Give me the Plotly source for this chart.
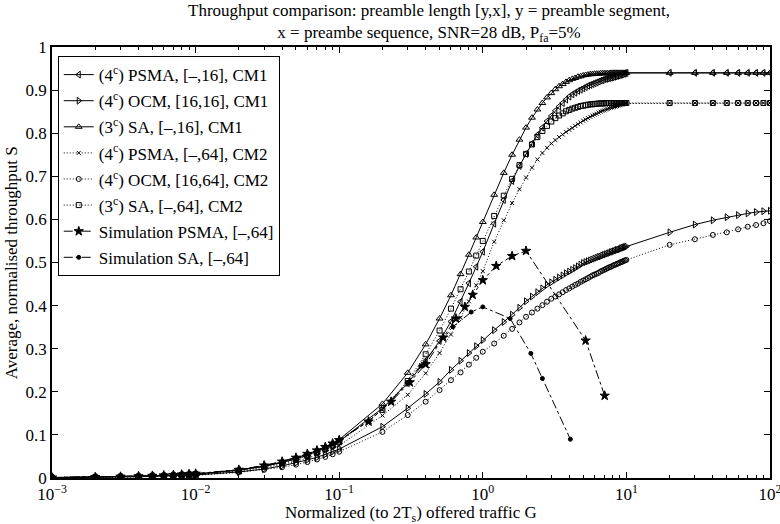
import plotly.graph_objects as go

# ---------------- data ----------------
G_theory = [0.001, 0.002, 0.003, 0.004, 0.005, 0.006, 0.007, 0.008, 0.009, 0.01,
            0.02, 0.03, 0.04, 0.05, 0.06, 0.07, 0.08, 0.09, 0.1,
            0.2, 0.3, 0.4, 0.5, 0.6, 0.7, 0.8, 0.9, 1.0,
            1.2, 1.4, 1.6, 1.8, 2.0, 2.2, 2.4, 2.6, 2.8, 3.0,
            3.2, 3.4, 3.6, 3.8, 4.0, 4.2, 4.4, 4.6, 4.8, 5.0,
            5.2, 5.4, 5.6, 5.8, 6.0, 6.2, 6.4, 6.6, 6.8, 7.0,
            7.2, 7.4, 7.6, 7.8, 8.0, 8.2, 8.4, 8.6, 8.8, 9.0,
            9.2, 9.4, 9.6, 9.8, 10.0,
            20, 30, 40, 50, 60, 70, 80, 90, 100]

psma_cm1 = [0.001, 0.002, 0.003, 0.004, 0.005, 0.005, 0.006, 0.007, 0.008, 0.009,
            0.018, 0.027, 0.036, 0.044, 0.053, 0.061, 0.069, 0.077, 0.085,
            0.162, 0.220, 0.272, 0.318, 0.363, 0.409, 0.452, 0.490, 0.525,
            0.590, 0.645, 0.689, 0.724, 0.752, 0.776, 0.796, 0.813, 0.828, 0.840,
            0.852, 0.862, 0.870, 0.878, 0.885, 0.890, 0.894, 0.898, 0.901, 0.904,
            0.907, 0.910, 0.912, 0.914, 0.916, 0.918, 0.920, 0.922, 0.923, 0.925,
            0.926, 0.927, 0.928, 0.929, 0.930, 0.931, 0.932, 0.933, 0.934, 0.935,
            0.936, 0.937, 0.938, 0.939, 0.940,
            0.940, 0.940, 0.940, 0.940, 0.940, 0.940, 0.940, 0.940, 0.940]

ocm_cm1 = [0.001, 0.001, 0.002, 0.003, 0.004, 0.004, 0.005, 0.006, 0.006, 0.007,
           0.014, 0.021, 0.028, 0.035, 0.042, 0.048, 0.055, 0.061, 0.067,
           0.119, 0.162, 0.195, 0.223, 0.251, 0.272, 0.290, 0.306, 0.320,
           0.343, 0.362, 0.379, 0.395, 0.410, 0.421, 0.431, 0.440, 0.448, 0.454,
           0.460, 0.465, 0.470, 0.475, 0.479, 0.483, 0.487, 0.491, 0.495, 0.499,
           0.501, 0.503, 0.505, 0.507, 0.509, 0.511, 0.513, 0.514, 0.516, 0.518,
           0.519, 0.521, 0.522, 0.524, 0.525, 0.526, 0.528, 0.529, 0.530, 0.531,
           0.533, 0.534, 0.535, 0.536, 0.537,
           0.570, 0.588, 0.598, 0.605, 0.610, 0.614, 0.617, 0.619, 0.620]

sa_cm1 = [0.001, 0.002, 0.003, 0.004, 0.005, 0.006, 0.007, 0.007, 0.008, 0.009,
          0.019, 0.028, 0.037, 0.046, 0.055, 0.064, 0.072, 0.081, 0.089,
          0.172, 0.244, 0.310, 0.370, 0.424, 0.473, 0.518, 0.558, 0.594,
          0.657, 0.708, 0.750, 0.785, 0.813, 0.836, 0.855, 0.870, 0.883, 0.893,
          0.902, 0.909, 0.914, 0.919, 0.923, 0.926, 0.928, 0.931, 0.932, 0.934,
          0.935, 0.936, 0.937, 0.937, 0.938, 0.938, 0.938, 0.939, 0.939, 0.939,
          0.939, 0.939, 0.939, 0.940, 0.940, 0.940, 0.940, 0.940, 0.940, 0.940,
          0.940, 0.940, 0.940, 0.940, 0.940,
          0.940, 0.940, 0.940, 0.940, 0.940, 0.940, 0.940, 0.940, 0.940]

psma_cm2 = [0.001, 0.002, 0.002, 0.003, 0.004, 0.005, 0.006, 0.006, 0.007, 0.008,
            0.016, 0.024, 0.031, 0.039, 0.046, 0.054, 0.061, 0.068, 0.075,
            0.145, 0.193, 0.243, 0.290, 0.333, 0.372, 0.410, 0.447, 0.480,
            0.548, 0.598, 0.638, 0.670, 0.697, 0.720, 0.739, 0.754, 0.766, 0.776,
            0.784, 0.791, 0.797, 0.803, 0.808, 0.812, 0.817, 0.821, 0.825, 0.829,
            0.832, 0.835, 0.838, 0.841, 0.843, 0.845, 0.848, 0.850, 0.852, 0.853,
            0.855, 0.856, 0.858, 0.859, 0.860, 0.861, 0.862, 0.863, 0.864, 0.865,
            0.866, 0.867, 0.868, 0.869, 0.870,
            0.870, 0.870, 0.870, 0.870, 0.870, 0.870, 0.870, 0.870, 0.870]

ocm_cm2 = [0.001, 0.001, 0.002, 0.003, 0.003, 0.004, 0.005, 0.005, 0.006, 0.006,
           0.013, 0.019, 0.025, 0.031, 0.037, 0.043, 0.049, 0.055, 0.061,
           0.107, 0.146, 0.177, 0.204, 0.227, 0.245, 0.263, 0.279, 0.293,
           0.312, 0.330, 0.346, 0.361, 0.374, 0.384, 0.393, 0.401, 0.409, 0.416,
           0.421, 0.426, 0.431, 0.436, 0.440, 0.444, 0.448, 0.451, 0.455, 0.458,
           0.461, 0.464, 0.467, 0.470, 0.472, 0.474, 0.476, 0.479, 0.481, 0.483,
           0.485, 0.487, 0.489, 0.490, 0.492, 0.494, 0.495, 0.497, 0.498, 0.500,
           0.501, 0.502, 0.504, 0.505, 0.506,
           0.541, 0.554, 0.564, 0.570, 0.577, 0.583, 0.587, 0.591, 0.596]

sa_cm2 = [0.001, 0.002, 0.003, 0.003, 0.004, 0.005, 0.006, 0.007, 0.008, 0.009,
          0.017, 0.026, 0.034, 0.042, 0.051, 0.059, 0.067, 0.075, 0.083,
          0.158, 0.225, 0.287, 0.342, 0.393, 0.438, 0.479, 0.516, 0.550,
          0.608, 0.655, 0.694, 0.726, 0.752, 0.774, 0.791, 0.805, 0.817, 0.827,
          0.835, 0.841, 0.846, 0.851, 0.854, 0.857, 0.859, 0.861, 0.863, 0.864,
          0.865, 0.866, 0.867, 0.867, 0.868, 0.868, 0.869, 0.869, 0.869, 0.869,
          0.870, 0.870, 0.870, 0.870, 0.870, 0.870, 0.870, 0.870, 0.870, 0.870,
          0.870, 0.870, 0.870, 0.870, 0.870,
          0.870, 0.870, 0.870, 0.870, 0.870, 0.870, 0.870, 0.870, 0.870]

G_sim_psma = [0.001, 0.002, 0.003, 0.004, 0.005, 0.006, 0.007, 0.008, 0.009, 0.01,
              0.02, 0.03, 0.04, 0.05, 0.06, 0.07, 0.08, 0.09, 0.1,
              0.16, 0.23, 0.31, 0.4, 0.53, 0.65, 0.75, 0.85, 1.0, 1.24, 1.6, 2.0, 5.2, 7.06]
sim_psma = [0.001, 0.002, 0.003, 0.004, 0.005, 0.006, 0.007, 0.008, 0.009, 0.010,
            0.019, 0.029, 0.038, 0.047, 0.056, 0.064, 0.072, 0.080, 0.088,
            0.131, 0.177, 0.222, 0.264, 0.326, 0.370, 0.397, 0.425, 0.459, 0.492, 0.515, 0.527, 0.319, 0.191]

G_sim_sa = [0.001, 0.002, 0.003, 0.004, 0.005, 0.006, 0.007, 0.008, 0.009, 0.01,
            0.02, 0.03, 0.04, 0.05, 0.06, 0.07, 0.08, 0.09, 0.1,
            0.16, 0.23, 0.37, 0.62, 0.83, 1.0, 1.55, 2.16, 2.6, 4.07]
sim_sa = [0.001, 0.002, 0.003, 0.004, 0.005, 0.006, 0.007, 0.008, 0.009, 0.010,
          0.019, 0.029, 0.038, 0.047, 0.056, 0.064, 0.072, 0.080, 0.088,
          0.132, 0.178, 0.260, 0.351, 0.385, 0.397, 0.370, 0.289, 0.231, 0.090]

legend_names = [
    "(4<sup>c</sup>) PSMA, [\u2013,16], CM1",
    "(4<sup>c</sup>) OCM, [16,16], CM1",
    "(3<sup>c</sup>) SA, [\u2013,16], CM1",
    "(4<sup>c</sup>) PSMA, [\u2013,64], CM2",
    "(4<sup>c</sup>) OCM, [16,64], CM2",
    "(3<sup>c</sup>) SA, [\u2013,64], CM2",
    "Simulation PSMA, [\u2013,64]",
    "Simulation SA, [\u2013,64]",
]
x_tickvals = [0.001, 0.01, 0.1, 1, 10, 100]
x_ticktext = ["10<sup>\u22123</sup>", "10<sup>\u22122</sup>", "10<sup>\u22121</sup>",
              "10<sup>0</sup>", "10<sup>1</sup>", "10<sup>2</sup>"]
y_tickvals = [0, 0.1, 0.2, 0.3, 0.4, 0.5, 0.6, 0.7, 0.8, 0.9, 1]
y_ticktext = ["0", "0.1", "0.2", "0.3", "0.4", "0.5", "0.6", "0.7", "0.8", "0.9", "1"]

# ---------------- figure ----------------
FONT = "Liberation Serif"
series = [
    (G_theory, psma_cm1, "triangle-left-open", "solid", 6),
    (G_theory, ocm_cm1, "triangle-right-open", "solid", 6),
    (G_theory, sa_cm1, "triangle-up-open", "solid", 6),
    (G_theory, psma_cm2, "x-thin-open", "1px,2px", 4),
    (G_theory, ocm_cm2, "circle-open", "1px,2px", 5),
    (G_theory, sa_cm2, "square-open", "1px,2px", 5),
    (G_sim_psma, sim_psma, "star", "dashdot", 7),
    (G_sim_sa, sim_sa, "circle", "dashdot", 4),
]

fig = go.Figure()
for i, ((xs, ys, sym, dash, size), name) in enumerate(zip(series, legend_names)):
    fig.add_trace(go.Scatter(
        x=xs, y=ys, name=name, mode="lines+markers",
        legendgroup=f"g{i}",
        line=dict(color="black", width=1, dash=dash),
        marker=dict(symbol=sym, size=size, color="black",
                    line=dict(color="black", width=1)),
    ))

minor_vals = [m * 10 ** e for e in range(-3, 2) for m in range(2, 10)]

fig.update_layout(
    width=780, height=524,
    margin=dict(l=52, r=10, t=47, b=46, autoexpand=False),
    paper_bgcolor="white", plot_bgcolor="white",
    font=dict(family=FONT, size=16, color="black"),
    showlegend=True,
    legend=dict(
        x=0.008, y=0.979, xanchor="left", yanchor="top",
        bgcolor="white", bordercolor="black", borderwidth=1,
        font=dict(family=FONT, size=17, color="black"),
        tracegroupgap=1, traceorder="grouped", itemwidth=30,
    ),
    xaxis=dict(
        type="log", range=[-3, 2], automargin=False,
        tickmode="array", tickvals=x_tickvals, ticktext=x_ticktext,
        ticklabeloverflow="allow",
        ticks="inside", ticklen=6, tickcolor="black",
        showline=True, linecolor="black", linewidth=1.5, mirror="ticks",
        showgrid=False, zeroline=False,
        tickfont=dict(family=FONT, size=17),
        minor=dict(tickvals=minor_vals, ticks="inside", ticklen=3, tickcolor="black", showgrid=False),
    ),
    yaxis=dict(
        range=[0, 1], automargin=False,
        tickmode="array", tickvals=y_tickvals, ticktext=y_ticktext,
        ticks="inside", ticklen=6, tickcolor="black",
        showline=True, linecolor="black", linewidth=1.5, mirror="ticks",
        showgrid=False, zeroline=False,
        tickfont=dict(family=FONT, size=17),
    ),
    annotations=[
        dict(text="Throughput comparison: preamble length [y,x], y = preamble segment,<br>"
                  "x = preambe sequence, SNR=28 dB, P<sub>fa</sub>=5%",
             xref="paper", yref="paper", x=0.525, y=1.055,
             xanchor="center", yanchor="middle", showarrow=False,
             font=dict(family=FONT, size=17)),
        dict(text="Normalized (to 2T<sub>s</sub>) offered traffic G",
             xref="paper", yref="paper", x=0.5, y=-0.084,
             xanchor="center", yanchor="middle", showarrow=False,
             font=dict(family=FONT, size=17)),
        dict(text="Average, normalised throughput S",
             xref="paper", yref="paper", x=-0.056, y=0.5, textangle=-90,
             xanchor="center", yanchor="middle", showarrow=False,
             font=dict(family=FONT, size=17)),
    ],
)

fig.write_html("out.html")
